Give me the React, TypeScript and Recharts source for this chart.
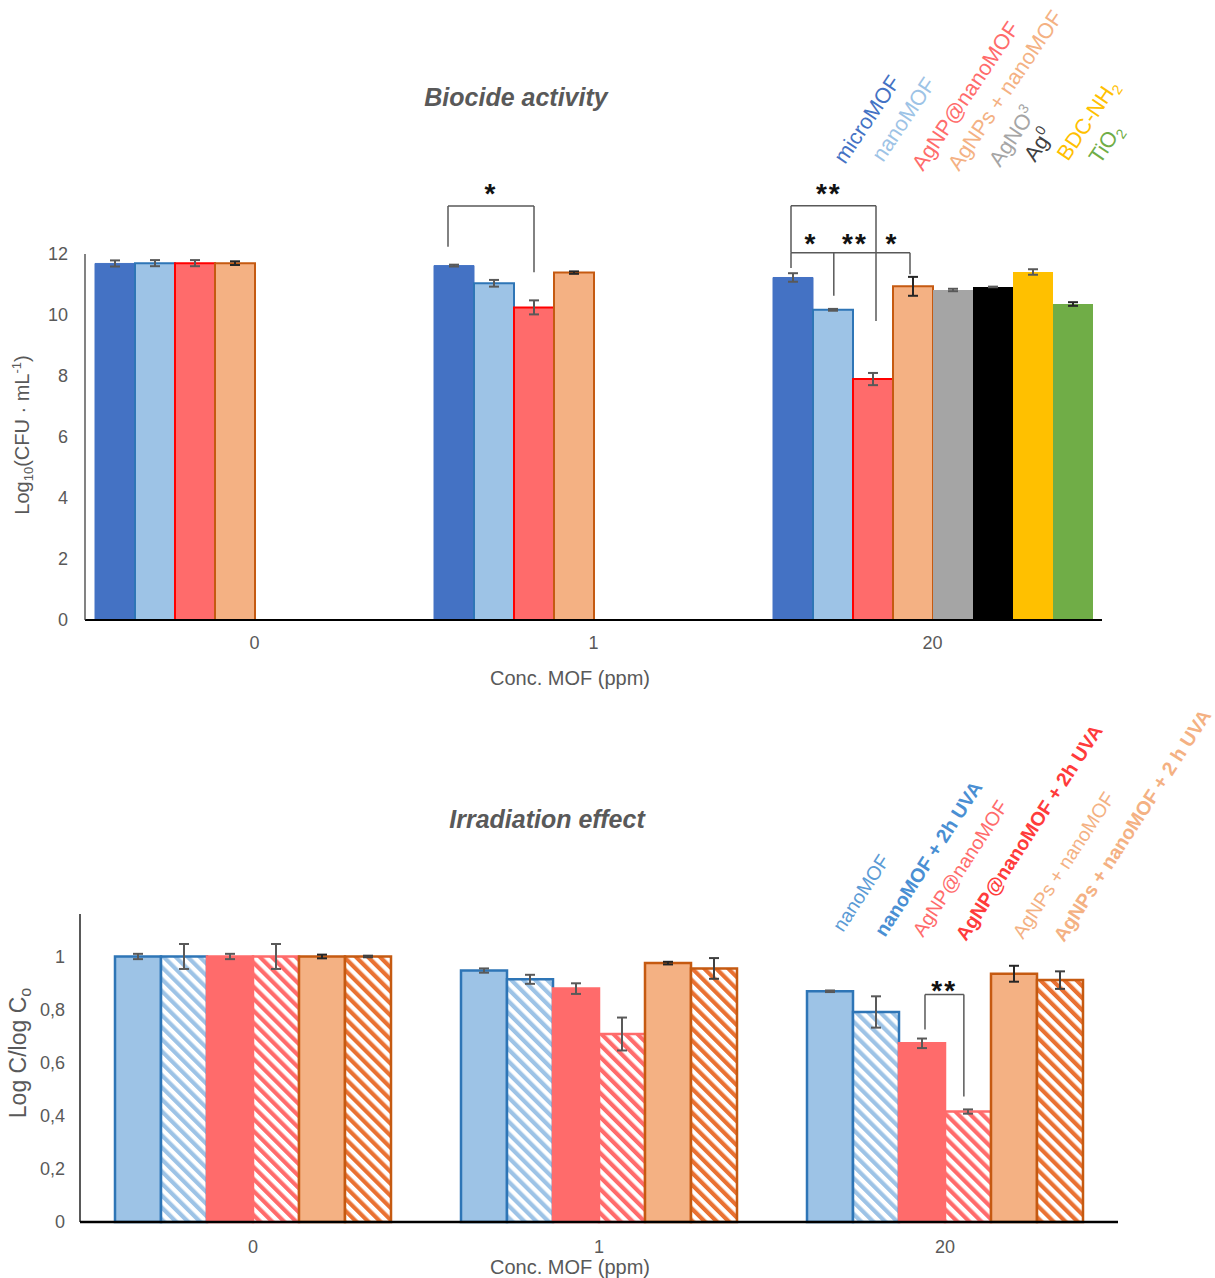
import React from 'react';
import { BarChart, Bar, XAxis, YAxis, ErrorBar, Rectangle } from 'recharts';

const FONT = '"Liberation Sans", Arial, sans-serif';
const TEXT_GREY = '#595959';

const concentrations = ['0', '1', '20'];

// Biocide activity, Log10(CFU · mL-1)
const microMOF = [11.69, 11.62, 11.23];
const microMOFErr = [0.1, 0.03, 0.14];
const nanoMOF = [11.7, 11.04, 10.17];
const nanoMOFErr = [0.1, 0.11, 0.03];
const agnpNanoMOF = [11.7, 10.25, 7.9];
const agnpNanoMOFErr = [0.1, 0.23, 0.2];
const agnpsNanoMOF = [11.7, 11.39, 10.94];
const agnpsNanoMOFErr = [0.06, 0.04, 0.31];
const agno3 = [null, null, 10.82];
const agno3Err = [null, null, 0.04];
const ag0 = [null, null, 10.92];
const ag0Err = [null, null, 0.01];
const bdcNh2 = [null, null, 11.41];
const bdcNh2Err = [null, null, 0.09];
const tio2 = [null, null, 10.36];
const tio2Err = [null, null, 0.06];

// Irradiation effect, Log C / log Co
const irrNano = [1.0, 0.947, 0.869];
const irrNanoErr = [0.01, 0.008, 0.003];
const irrNanoUva = [1.0, 0.914, 0.791];
const irrNanoUvaErr = [0.047, 0.017, 0.059];
const irrAgnp = [1.0, 0.879, 0.673];
const irrAgnpErr = [0.01, 0.02, 0.018];
const irrAgnpUva = [1.0, 0.708, 0.416];
const irrAgnpUvaErr = [0.047, 0.062, 0.008];
const irrAgnps = [1.0, 0.975, 0.935];
const irrAgnpsErr = [0.007, 0.005, 0.03];
const irrAgnpsUva = [1.0, 0.955, 0.911];
const irrAgnpsUvaErr = [0.003, 0.039, 0.033];

const topTicks = [0, 2, 4, 6, 8, 10, 12];
const bottomTicks = [0, 0.2, 0.4, 0.6, 0.8, 1];

const topData = concentrations.map((conc, i) => ({
  conc,
  microMOF: microMOF[i], microMOFErr: microMOFErr[i],
  nanoMOF: nanoMOF[i], nanoMOFErr: nanoMOFErr[i],
  agnpNanoMOF: agnpNanoMOF[i], agnpNanoMOFErr: agnpNanoMOFErr[i],
  agnpsNanoMOF: agnpsNanoMOF[i], agnpsNanoMOFErr: agnpsNanoMOFErr[i],
  agno3: agno3[i], agno3Err: agno3Err[i],
  ag0: ag0[i], ag0Err: ag0Err[i],
  bdcNh2: bdcNh2[i], bdcNh2Err: bdcNh2Err[i],
  tio2: tio2[i], tio2Err: tio2Err[i],
}));

const bottomData = concentrations.map((conc, i) => ({
  conc,
  nano: irrNano[i], nanoErr: irrNanoErr[i],
  nanoUva: irrNanoUva[i], nanoUvaErr: irrNanoUvaErr[i],
  agnp: irrAgnp[i], agnpErr: irrAgnpErr[i],
  agnpUva: irrAgnpUva[i], agnpUvaErr: irrAgnpUvaErr[i],
  agnps: irrAgnps[i], agnpsErr: irrAgnpsErr[i],
  agnpsUva: irrAgnpsUva[i], agnpsUvaErr: irrAgnpsUvaErr[i],
}));

// significance brackets: "at" is measured in bar widths from the start of the cluster
type Leg = { at: number; bottom: number };
type Bracket = { conc: string; top: number; legs: Leg[] };
type Mark = { conc: string; at: number; y: number; text: string };

const topBrackets: Bracket[] = [
  { conc: '1', top: 13.57, legs: [{ at: 0.35, bottom: 12.24 }, { at: 2.5, bottom: 11.4 }] },
  { conc: '20', top: 13.58, legs: [{ at: 0.45, bottom: 12.04 }, { at: 2.575, bottom: 9.8 }] },
  { conc: '20', top: 12.04, legs: [{ at: 0.45, bottom: 11.54 }, { at: 1.52, bottom: 10.63 }, { at: 3.425, bottom: 11.34 }] },
];
const topMarks: Mark[] = [
  { conc: '1', at: 1.4, y: 14.16, text: '*' },
  { conc: '20', at: 1.37, y: 14.16, text: '**' },
  { conc: '20', at: 0.925, y: 12.52, text: '*' },
  { conc: '20', at: 2.025, y: 12.52, text: '**' },
  { conc: '20', at: 2.95, y: 12.52, text: '*' },
];
const bottomBrackets: Bracket[] = [
  { conc: '20', top: 0.857, legs: [{ at: 2.565, bottom: 0.725 }, { at: 3.41, bottom: 0.473 }] },
];
const bottomMarks: Mark[] = [{ conc: '20', at: 2.96, y: 0.894, text: '**' }];

// first series of each chart draws its rectangle plus the brackets of its cluster
const makeAnchorShape = (dataKey: string, brackets: Bracket[], marks: Mark[]) => (props: any) => {
  const { x, y, width, height, payload } = props;
  const v = payload ? payload[dataKey] : 0;
  const conc = payload ? payload.conc : '';
  const unit = v ? height / v : 0;
  const base = y + height;
  const toY = (val: number) => base - val * unit;
  const toX = (at: number) => x + at * width;
  return (
    <g>
      <Rectangle {...props} />
      {brackets
        .filter((b) => b.conc === conc)
        .map((b, i) => {
          const xs = b.legs.map((l) => toX(l.at));
          return (
            <g key={i} stroke="#595959" strokeWidth={1.5} fill="none">
              <line x1={Math.min(...xs)} x2={Math.max(...xs)} y1={toY(b.top)} y2={toY(b.top)} />
              {b.legs.map((l, j) => (
                <line key={j} x1={toX(l.at)} x2={toX(l.at)} y1={toY(b.top)} y2={toY(l.bottom)} />
              ))}
            </g>
          );
        })}
      {marks
        .filter((m) => m.conc === conc)
        .map((m, i) => (
          <text
            key={'m' + i}
            x={toX(m.at) + (m.text.length > 1 ? 1 : 0)}
            y={toY(m.y) + 15}
            textAnchor="middle"
            fontSize={28}
            fontWeight="bold"
            fontFamily={FONT}
            letterSpacing={m.text.length > 1 ? 2 : 0}
            fill="#111"
          >
            {m.text}
          </text>
        ))}
    </g>
  );
};

const topSeries = [
  { key: 'microMOF', fill: '#4472C4', stroke: '#4472C4', sw: 1, err: '#595959' },
  { key: 'nanoMOF', fill: '#9DC3E6', stroke: '#2E75B6', sw: 2, err: '#595959' },
  { key: 'agnpNanoMOF', fill: '#FF6B6B', stroke: '#FF0000', sw: 2, err: '#595959' },
  { key: 'agnpsNanoMOF', fill: '#F4B183', stroke: '#C55A11', sw: 2, err: '#262626' },
  { key: 'agno3', fill: '#A5A5A5', stroke: '#A5A5A5', sw: 0, err: '#595959' },
  { key: 'ag0', fill: '#000000', stroke: '#000000', sw: 0, err: '#595959' },
  { key: 'bdcNh2', fill: '#FFC000', stroke: '#FFC000', sw: 0, err: '#595959' },
  { key: 'tio2', fill: '#70AD47', stroke: '#70AD47', sw: 0, err: '#262626' },
];

const bottomSeries = [
  { key: 'nano', fill: '#9DC3E6', stroke: '#2E75B6', err: '#595959' },
  { key: 'nanoUva', fill: 'url(#hatchBlue)', stroke: '#2E75B6', err: '#595959' },
  { key: 'agnp', fill: '#FF6B6B', stroke: '#FF6B6B', err: '#595959' },
  { key: 'agnpUva', fill: 'url(#hatchRed)', stroke: '#FF6B6B', err: '#595959' },
  { key: 'agnps', fill: '#F4B183', stroke: '#C55A11', err: '#262626' },
  { key: 'agnpsUva', fill: 'url(#hatchOrange)', stroke: '#C55A11', err: '#404040' },
];

const tickStyle = { fill: TEXT_GREY, fontSize: 18, fontFamily: FONT };

const RotLabel = ({ x, y, angle, color, size, bold, children }: any) => (
  <text
    transform={`translate(${x},${y}) rotate(${angle})`}
    fill={color}
    fontSize={size}
    fontWeight={bold ? 'bold' : 'normal'}
    fontFamily={FONT}
  >
    {children}
  </text>
);

const Stripes = ({ id, color }: { id: string; color: string }) => (
  <pattern id={id} patternUnits="userSpaceOnUse" width="8.5" height="8.5" patternTransform="rotate(-45)">
    <rect width="8.5" height="8.5" fill="#ffffff" />
    <rect width="4.2" height="8.5" fill={color} />
  </pattern>
);

export default function App() {
  const topShape = makeAnchorShape('microMOF', topBrackets, topMarks);
  const bottomShape = makeAnchorShape('nano', bottomBrackets, bottomMarks);
  return (
    <div style={{ position: 'absolute', left: 0, top: 0, width: 1215, height: 1278, background: '#fff', fontFamily: FONT }}>
      <div style={{ position: 'absolute', left: 0, top: 0 }}>
        <BarChart width={1215} height={700} data={topData} margin={{ top: 254, right: 113, bottom: 50, left: 40 }} barGap={0}>
          <XAxis
            dataKey="conc"
            height={30}
            tickLine={false}
            tickSize={0}
            tickMargin={16}
            axisLine={{ stroke: '#000', strokeWidth: 2 }}
            tick={tickStyle}
          />
          <YAxis
            width={45}
            domain={[0, 12]}
            ticks={topTicks}
            tickLine={false}
            tickSize={0}
            tickMargin={17}
            axisLine={{ stroke: '#404040', strokeWidth: 1.3 }}
            tick={tickStyle}
          />
          {topSeries.map((s, i) => (
            <Bar
              key={s.key}
              dataKey={s.key}
              barSize={40}
              fill={s.fill}
              stroke={s.stroke}
              strokeWidth={s.sw}
              isAnimationActive={false}
              shape={i === 0 ? topShape : undefined}
            >
              <ErrorBar dataKey={s.key + 'Err'} width={5} stroke={s.err} strokeWidth={2} isAnimationActive={false} />
            </Bar>
          ))}
        </BarChart>
      </div>
      <div style={{ position: 'absolute', left: 0, top: 700 }}>
        <BarChart width={1215} height={578} data={bottomData} margin={{ top: 214, right: 97, bottom: 26, left: 35 }} barGap={0}>
          <XAxis
            dataKey="conc"
            height={30}
            tickLine={false}
            tickSize={0}
            tickMargin={18}
            axisLine={{ stroke: '#000', strokeWidth: 2.5 }}
            tick={tickStyle}
          />
          <YAxis
            width={45}
            domain={[0, 1.16]}
            ticks={bottomTicks}
            tickLine={false}
            tickSize={0}
            tickMargin={15}
            axisLine={{ stroke: '#000', strokeWidth: 1.3 }}
            tick={tickStyle}
            tickFormatter={(v: number) => String(v).replace('.', ',')}
          />
          {bottomSeries.map((s, i) => (
            <Bar
              key={s.key}
              dataKey={s.key}
              barSize={46}
              fill={s.fill}
              stroke={s.stroke}
              strokeWidth={2.5}
              isAnimationActive={false}
              shape={i === 0 ? bottomShape : undefined}
            >
              <ErrorBar dataKey={s.key + 'Err'} width={5} stroke={s.err} strokeWidth={2} isAnimationActive={false} />
            </Bar>
          ))}
        </BarChart>
      </div>
      <svg width={1215} height={1278} style={{ position: 'absolute', left: 0, top: 0, pointerEvents: 'none' }}>
        <defs>
          <Stripes id="hatchBlue" color="#9DC3E6" />
          <Stripes id="hatchRed" color="#FF6B6B" />
          <Stripes id="hatchOrange" color="#E97132" />
        </defs>

        {/* titles */}
        <text x={516} y={106} textAnchor="middle" fontSize={25} fontWeight="bold" fontStyle="italic" fill={TEXT_GREY} fontFamily={FONT}>
          Biocide activity
        </text>
        <text x={547} y={828} textAnchor="middle" fontSize={25} fontWeight="bold" fontStyle="italic" fill={TEXT_GREY} fontFamily={FONT}>
          Irradiation effect
        </text>

        {/* axis titles */}
        <text x={570} y={685} textAnchor="middle" fontSize={20} fill={TEXT_GREY} fontFamily={FONT}>
          Conc. MOF (ppm)
        </text>
        <text x={570} y={1274} textAnchor="middle" fontSize={20} fill={TEXT_GREY} fontFamily={FONT}>
          Conc. MOF (ppm)
        </text>
        <text transform="translate(29,435) rotate(-90)" textAnchor="middle" fontSize={20} fill={TEXT_GREY} fontFamily={FONT}>
          Log<tspan fontSize={13} dy={4}>10</tspan>
          <tspan dy={-4}>(CFU · mL</tspan>
          <tspan fontSize={13} dy={-8}>-1</tspan>
          <tspan dy={8}>)</tspan>
        </text>
        <text transform="translate(26,1053) rotate(-90)" textAnchor="middle" fontSize={23} fill={TEXT_GREY} fontFamily={FONT}>
          Log C/log C<tspan fontSize={16} dy={5}>o</tspan>
        </text>

        {/* legend, biocide activity */}
        <RotLabel x={845} y={165} angle={-56} color="#4472C4" size={21.5}>microMOF</RotLabel>
        <RotLabel x={883} y={163} angle={-56} color="#9DC3E6" size={21.5}>nanoMOF</RotLabel>
        <RotLabel x={923} y={172} angle={-56} color="#FF6B6B" size={21.5}>AgNP@nanoMOF</RotLabel>
        <RotLabel x={959} y={172} angle={-56} color="#F4B183" size={21.5}>AgNPs + nanoMOF</RotLabel>
        <RotLabel x={1000} y={168} angle={-56} color="#A5A5A5" size={21.5}>
          AgNO<tspan fontSize={14} dy={-9}>3</tspan>
        </RotLabel>
        <RotLabel x={1035} y={163} angle={-56} color="#404040" size={21.5}>
          Ag<tspan fontSize={14} dy={-9}>0</tspan>
        </RotLabel>
        <RotLabel x={1068} y={162} angle={-56} color="#FFC000" size={21.5}>
          BDC-NH<tspan fontSize={14} dy={5}>2</tspan>
        </RotLabel>
        <RotLabel x={1100} y={165} angle={-56} color="#70AD47" size={21.5}>
          TiO<tspan fontSize={14} dy={5}>2</tspan>
        </RotLabel>

        {/* legend, irradiation effect */}
        <RotLabel x={843} y={933} angle={-57} color="#5B9BD5" size={19.5}>nanoMOF</RotLabel>
        <RotLabel x={885} y={938} angle={-57} color="#4A8FD3" size={19.5} bold>nanoMOF + 2h UVA</RotLabel>
        <RotLabel x={923} y={938} angle={-57} color="#FF6B6B" size={19.5}>AgNP@nanoMOF</RotLabel>
        <RotLabel x={966} y={942} angle={-57} color="#FF3B3B" size={19.5} bold>AgNP@nanoMOF + 2h UVA</RotLabel>
        <RotLabel x={1023} y={940} angle={-57} color="#F4B183" size={19.5}>AgNPs + nanoMOF</RotLabel>
        <RotLabel x={1064} y={943} angle={-57} color="#F4B183" size={19.5} bold>AgNPs + nanoMOF + 2 h UVA</RotLabel>
      </svg>
    </div>
  );
}
